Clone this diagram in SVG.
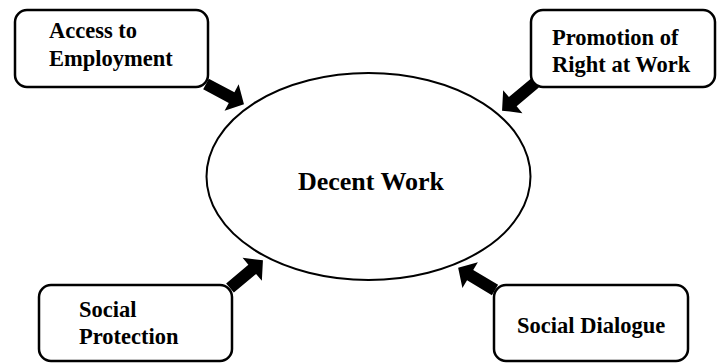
<svg xmlns="http://www.w3.org/2000/svg" width="718" height="363" viewBox="0 0 718 363">
  <style>
    .box { fill: #fff; stroke: #000; stroke-width: 2.5; }
    .ell { fill: #fff; stroke: #000; stroke-width: 2; }
    .lbl { font-family: 'Liberation Serif', 'Times New Roman', serif; font-weight: bold; font-size: 22.5px; fill: #000; }
    .main { font-family: 'Liberation Serif', 'Times New Roman', serif; font-weight: bold; font-size: 26px; fill: #000; }
    .arr { fill: #000; stroke: none; }
  </style>
  <defs>
    <path id="blockArrow" class="arr" d="M0,-6 L29,-6 L29,-15 L43,0 L29,15 L29,6 L0,6 Z"/>
  </defs>
  <rect width="718" height="363" fill="#fff"/>
  <g id="decent-work">
    <ellipse class="ell" cx="368.5" cy="176.5" rx="162" ry="103.5"/>
    <text class="main" x="371" y="190" text-anchor="middle">Decent Work</text>
  </g>
  <g id="access-to-employment">
    <rect class="box" x="15" y="10" width="193" height="77" rx="12" ry="12"/>
    <text class="lbl" x="49" y="38">Access to</text>
    <text class="lbl" x="49" y="66">Employment</text>
  </g>
  <g id="promotion-of-right-at-work">
    <rect class="box" x="531" y="10" width="184" height="77" rx="12" ry="12"/>
    <text class="lbl" x="552" y="45">Promotion of</text>
    <text class="lbl" x="552" y="72">Right at Work</text>
  </g>
  <g id="social-protection">
    <rect class="box" x="39" y="285" width="193" height="76" rx="12" ry="12"/>
    <text class="lbl" x="79" y="317">Social</text>
    <text class="lbl" x="79" y="344">Protection</text>
  </g>
  <g id="social-dialogue">
    <rect class="box" x="494" y="285" width="194" height="76" rx="12" ry="12"/>
    <text class="lbl" x="517" y="333">Social Dialogue</text>
  </g>
  <g id="connectors">
    <use href="#blockArrow" transform="translate(206,84) rotate(28)"/>
    <use href="#blockArrow" transform="translate(535,83) rotate(140)"/>
    <use href="#blockArrow" transform="translate(230,288) rotate(-40)"/>
    <use href="#blockArrow" transform="translate(495,290) rotate(211)"/>
  </g>
</svg>
